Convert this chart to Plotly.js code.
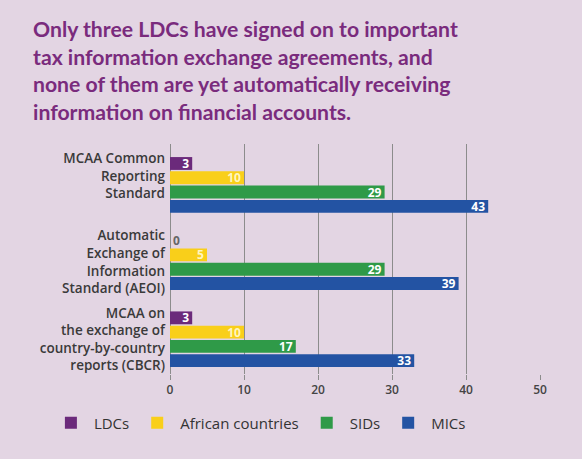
<!DOCTYPE html>
<html>
<head>
<meta charset="utf-8">
<script src="https://cdn.plot.ly/plotly-3.0.1.min.js"></script>
<style>html,body{margin:0;padding:0;background:#e3d5e3;}#chart{width:582px;height:459px;}</style>
</head>
<body>
<div id="chart"></div>
<script>
var categories = [
  "MCAA Common<br>Reporting<br>Standard<br> ",
  "Automatic<br>Exchange of<br>Information<br>Standard (AEOI)",
  "MCAA on<br>the exchange of<br>country-by-country<br>reports (CBCR)"
];
var seriesNames = ["LDCs", "African countries", "SIDs", "MICs"];
var ldcs = [3, 0, 3];
var african = [10, 5, 10];
var sids = [29, 29, 17];
var mics = [43, 39, 33];
var xTicks = [0, 10, 20, 30, 40, 50];
var titleText = "Only three LDCs have signed on to important<br>tax information exchange agreements, and<br>none of them are yet automatically receiving<br>information on financial accounts.";

var colors = ["#6b2a7b", "#f9cf1a", "#2f9a48", "#2353a3"];
var textColors = ["#ffffff", "#fff6c0", "#ffffff", "#ffffff"];
var allSeries = [ldcs, african, sids, mics];
var valFont = "Open Sans, sans-serif";

var traces = allSeries.map(function(vals, i) {
  return {
    type: "bar",
    orientation: "h",
    name: seriesNames[i],
    y: categories,
    x: vals,
    text: vals.map(String),
    textposition: vals.map(function(v){ return v > 0 ? "inside" : "outside"; }),
    textangle: 0,
    insidetextanchor: "end",
    constraintext: "none",
    cliponaxis: false,
    insidetextfont: {family: valFont, size: 12, color: textColors[i], weight: "bold"},
    outsidetextfont: {family: valFont, size: 12, color: "#666666", weight: "bold"},
    marker: {color: colors[i], line: {width: 0}},
    hoverinfo: "x+name"
  };
});

var layout = {
  width: 582,
  height: 459,
  paper_bgcolor: "#e3d5e3",
  plot_bgcolor: "#e3d5e3",
  margin: {l: 170, r: 42, t: 144, b: 85},
  title: {
    text: titleText,
    x: 33 / 582, xref: "container", xanchor: "left",
    y: 1, yref: "container", yanchor: "top",
    pad: {t: 37},
    font: {family: "Lato, sans-serif", size: 21.2, color: "#7a2b7d", weight: "bold"}
  },
  barmode: "group",
  bargap: 0.26,
  bargroupgap: 0.1,
  showlegend: true,
  legend: {
    orientation: "h",
    xref: "paper", x: -0.33, xanchor: "left",
    yref: "paper", y: -0.213, yanchor: "middle",
    font: {family: "Open Sans, sans-serif", size: 15, color: "#333333"},
    itemwidth: 36,
    traceorder: "normal",
    itemclick: false
  },
  xaxis: {
    range: [0, 50],
    tickvals: xTicks,
    ticktext: xTicks.map(String),
    showgrid: true,
    gridcolor: "#8c8c8c",
    gridwidth: 1,
    zeroline: true,
    zerolinecolor: "#8c8c8c",
    zerolinewidth: 1,
    ticks: "outside",
    ticklen: 5,
    tickcolor: "#8c8c8c",
    tickfont: {family: "Open Sans, sans-serif", size: 12, color: "#444444", weight: 600},
    showline: false,
    fixedrange: true
  },
  yaxis: {
    range: [2.45, -0.53],
    showgrid: false,
    ticks: "",
    ticklabelstandoff: 4,
    tickfont: {family: "Open Sans, sans-serif", size: 13.5, color: "#3a3a3a", weight: 600},
    fixedrange: true
  }
};

Plotly.newPlot("chart", traces, layout, {displayModeBar: false, staticPlot: true});
</script>
</body>
</html>
